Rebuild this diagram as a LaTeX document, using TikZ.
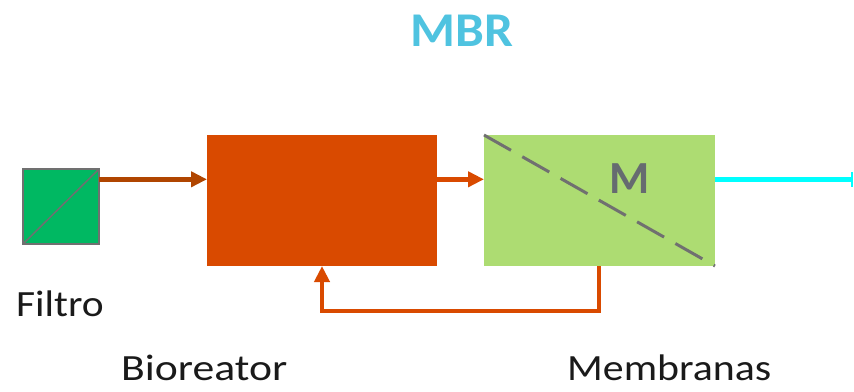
\documentclass[tikz,border=0pt]{standalone}
\usepackage{fontspec}
\setmainfont{Carlito}
\usetikzlibrary{arrows.meta}
\definecolor{filtgreen}{HTML}{00B862}
\definecolor{bioorange}{HTML}{D94A00}
\definecolor{arrowbrown}{HTML}{B04500}
\definecolor{memgreen}{HTML}{ADDC72}
\definecolor{linegray}{HTML}{707070}
\definecolor{titleblue}{HTML}{4FC3E0}
\definecolor{mgray}{HTML}{666B70}
\definecolor{textblack}{HTML}{1A1A1A}
\definecolor{outcyan}{HTML}{00FFFF}
\tikzset{
  box/.style={rectangle, inner sep=0pt, outer sep=0pt},
  flow/.style={line width=4.5pt, -{Triangle[length=16pt,width=15pt]}},
  label/.style={anchor=base west, inner sep=0pt, text=textblack, font=\fontsize{37}{40}\selectfont},
}
\begin{document}
\begin{tikzpicture}[x=1pt,y=-1pt]
\useasboundingbox (0,0) rectangle (854,391);
% boxes
\node[box, fill=filtgreen, draw=linegray, line width=2pt, minimum width=76pt, minimum height=75pt] (filt) at (61,206.5) {};
\draw[linegray, line width=1.5pt] (filt.south west) -- (filt.north east);
\node[box, fill=bioorange, minimum width=230pt, minimum height=131pt] (bio) at (322,200.5) {};
\node[box, fill=memgreen, minimum width=231pt, minimum height=131pt] (mem) at (599.5,200.5) {};
\draw[linegray, line width=3pt, dash pattern=on 31pt off 13pt] (mem.north west) -- (mem.south east);
\node[inner sep=0pt, anchor=base, text=mgray, font=\fontsize{46}{48}\selectfont\bfseries] (mlab) at (630,193) {M};
% connectors
\coordinate (ylev) at (0,179.3);
\coordinate (yret) at (0,311);
\coordinate (endc) at (853,179.3);
\draw[flow, arrowbrown] (filt.east |- ylev) -- (bio.west |- ylev);
\draw[flow, bioorange] (bio.east |- ylev) -- (mem.west |- ylev);
\draw[outcyan, line width=5.5pt, -{Bar[width=15pt,line width=2pt]}] (mem.east |- ylev) -- (endc);
\coordinate (rs) at (599,0);
\coordinate (re) at (322,0);
\draw[flow, bioorange] (mem.south -| rs) -- (rs |- yret) -- (re |- yret) -- (bio.south -| re);
% texts
\node[inner sep=0pt, anchor=base, text=titleblue, font=\fontsize{48.5}{52}\selectfont\bfseries] (title) at (462,46.7) {\scalebox{1.06}[1]{MBR}};
\node[label] (lfilt) at (16,316.7) {\scalebox{1.12}[1]{Filtro}};
\node[label] (lbio) at (121,380) {\scalebox{1.18}[1]{Bioreator}};
\node[label] (lmem) at (567,380) {\scalebox{1.13}[1]{Membranas}};
\end{tikzpicture}
\end{document}
